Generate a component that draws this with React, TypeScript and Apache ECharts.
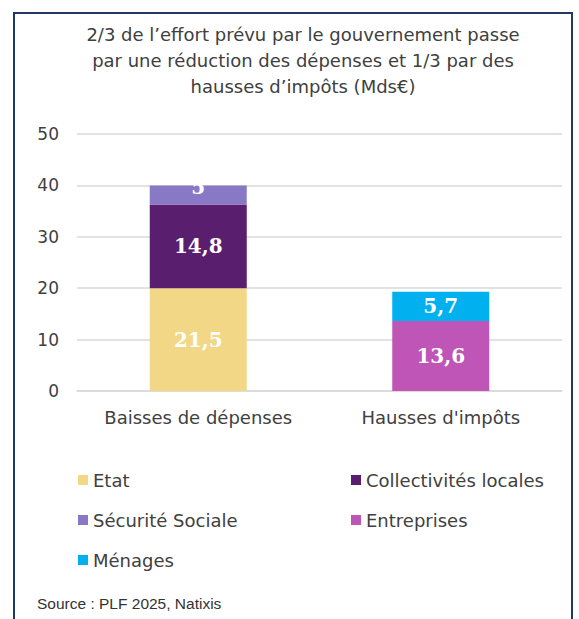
import React, { useEffect, useRef } from "react";
import * as echarts from "echarts";

const categories = ["Baisses de dépenses", "Hausses d'impôts"];
const seriesNames = ["Etat", "Collectivités locales", "Sécurité Sociale", "Entreprises", "Ménages"];
// bar heights as drawn
const etat = [20, null];
const collectivites = [16.3, null];
const securite = [3.7, null];
const entreprises = [null, 13.6];
const menages = [null, 5.7];
// label texts as printed in the bars
const etatLabels = ["21,5", ""];
const collectivitesLabels = ["14,8", ""];
const securiteLabels = ["5", ""];
const entreprisesLabels = ["", "13,6"];
const menagesLabels = ["", "5,7"];
const colors = ["#f2d886", "#5a1e6e", "#8878c6", "#c055b8", "#00b0ef"];
const yTicks = { min: 0, max: 50, interval: 10 };

const titleText = "2/3 de l’effort prévu par le gouvernement passe\npar une réduction des dépenses et 1/3 par des\nhausses d’impôts (Mds€)";
const sourceText = "Source : PLF 2025, Natixis";

export default function App() {
  const ref = useRef<HTMLDivElement>(null);
  useEffect(() => {
    if (!ref.current) return;
    const chart = echarts.init(ref.current, null, { renderer: "svg" });
    const values = [etat, collectivites, securite, entreprises, menages];
    const labels = [etatLabels, collectivitesLabels, securiteLabels, entreprisesLabels, menagesLabels];
    const textColor = "#404040";
    const sans = "'DejaVu Sans', sans-serif";
    chart.setOption({
      animation: false,
      backgroundColor: "#ffffff",
      grid: { left: 77, right: 17, top: 134, bottom: 228, containLabel: false },
      xAxis: {
        type: "category",
        data: categories,
        axisTick: { show: false },
        axisLine: { show: true, lineStyle: { color: "#d9d9d9", width: 1.5 } },
        axisLabel: { color: textColor, fontSize: 18, fontFamily: sans, margin: 17, interval: 0 },
      },
      yAxis: {
        type: "value",
        min: yTicks.min,
        max: yTicks.max,
        interval: yTicks.interval,
        axisLine: { show: false },
        axisTick: { show: false },
        axisLabel: { color: textColor, fontSize: 17, fontFamily: sans, margin: 18 },
        splitLine: { lineStyle: { color: "#d9d9d9", width: 1.5 } },
      },
      legend: [
        {
          data: ["Etat", "Sécurité Sociale", "Ménages"],
          orient: "vertical",
          left: 73,
          top: 465,
          itemWidth: 10,
          itemHeight: 10,
          itemGap: 20,
          icon: "rect",
          selectedMode: false,
          textStyle: { color: textColor, fontSize: 18, fontFamily: sans, lineHeight: 20 },
        },
        {
          data: ["Collectivités locales", "Entreprises"],
          orient: "vertical",
          left: 346,
          top: 465,
          itemWidth: 10,
          itemHeight: 10,
          itemGap: 20,
          icon: "rect",
          selectedMode: false,
          textStyle: { color: textColor, fontSize: 18, fontFamily: sans, lineHeight: 20 },
        },
      ],
      graphic: [
        {
          type: "rect",
          shape: { x: 14, y: 13, width: 558, height: 640 },
          style: { fill: "none", stroke: "#1f3864", lineWidth: 2 },
          silent: true,
        },
        {
          type: "text",
          x: 303,
          y: 21,
          style: {
            text: titleText,
            textAlign: "center",
            textVerticalAlign: "top",
            fontSize: 18,
            fontFamily: sans,
            lineHeight: 26,
            fill: textColor,
          },
        },
        {
          type: "text",
          x: 37,
          y: 603,
          style: {
            text: sourceText,
            textAlign: "left",
            textVerticalAlign: "middle",
            fontSize: 15.5,
            fontFamily: "'Liberation Sans Narrow', 'Liberation Sans', Arial, sans-serif",
            fill: "#333333",
          },
        },
      ],
      series: seriesNames.map((name, i) => ({
        name,
        type: "bar",
        stack: "total",
        barWidth: "40%",
        data: values[i],
        itemStyle: { color: colors[i] },
        label: {
          show: true,
          position: "inside",
          offset: i === 2 ? [0, -8] : [0, 0],
          color: "#ffffff",
          fontFamily: "'DejaVu Serif', serif",
          fontWeight: "bold",
          fontSize: 20,
          formatter: (p: any) => labels[i][p.dataIndex] || "",
        },
      })),
    });
    return () => chart.dispose();
  }, []);
  return (
    <div style={{ position: "absolute", left: 0, top: 0, width: 579, height: 619, background: "#fff" }}>
      <div ref={ref} style={{ width: 579, height: 619 }} />
    </div>
  );
}
